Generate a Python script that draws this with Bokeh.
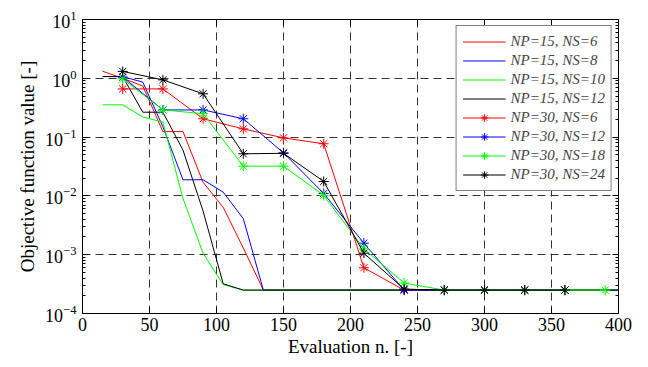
from bokeh.plotting import figure
from bokeh.models import (Range1d, LogAxis, LinearAxis, SingleIntervalTicker, LogTicker,
                          Legend, LegendItem)
from bokeh.embed import file_html
from bokeh.resources import INLINE

# ---- data ----
# NP=15 series (no markers)
x_np15_ns6 = [15, 30, 45, 60, 75, 90, 105, 120, 135, 400]
y_np15_ns6 = [1.32, 1.0, 0.74, 0.124, 0.124, 0.017, 0.0064, 0.0013, 0.00025, 0.00025]

x_np15_ns8 = [15, 30, 45, 60, 75, 90, 105, 120, 135, 400]
y_np15_ns8 = [1.07, 1.07, 0.86, 0.15, 0.0188, 0.0188, 0.0116, 0.0041, 0.00025, 0.00025]

x_np15_ns10 = [15, 30, 45, 60, 75, 90, 105, 120, 400]
y_np15_ns10 = [0.354, 0.354, 0.22, 0.18, 0.009, 0.00106, 0.00031, 0.00025, 0.00025]

x_np15_ns12 = [15, 30, 45, 60, 75, 90, 105, 120, 400]
y_np15_ns12 = [1.07, 1.07, 0.265, 0.265, 0.06, 0.0055, 0.00032, 0.00025, 0.00025]

# NP=30 series (asterisk markers)
x_np30_ns6 = [30, 60, 90, 120, 150, 180, 210, 240, 270, 300, 330, 360]
y_np30_ns6 = [0.66, 0.66, 0.205, 0.138, 0.097, 0.077, 0.0006, 0.00025, 0.00025, 0.00025, 0.00025, 0.00025]

x_np30_ns12 = [30, 60, 90, 120, 150, 180, 210, 240, 270, 300, 330, 360]
y_np30_ns12 = [1.05, 0.29, 0.29, 0.205, 0.054, 0.011, 0.00157, 0.00025, 0.00025, 0.00025, 0.00025, 0.00025]

x_np30_ns18 = [30, 60, 90, 120, 150, 180, 210, 240, 270, 300, 330, 360, 390]
y_np30_ns18 = [0.98, 0.29, 0.25, 0.032, 0.032, 0.0102, 0.00126, 0.00033, 0.00025, 0.00025, 0.00025, 0.00025, 0.00025]

x_np30_ns24 = [30, 60, 90, 120, 150, 180, 210, 240, 270, 300, 330, 360]
y_np30_ns24 = [1.31, 0.94, 0.545, 0.052, 0.053, 0.0176, 0.00106, 0.00026, 0.00025, 0.00025, 0.00025, 0.00025]

labels = ["NP=15, NS=6", "NP=15, NS=8", "NP=15, NS=10", "NP=15, NS=12",
          "NP=30, NS=6", "NP=30, NS=12", "NP=30, NS=18", "NP=30, NS=24"]
colors = ["#ff0000", "#0000ff", "#00ff00", "#000000"]

x_ticks_interval = 50
x_lim = (0, 400)
y_lim = (1e-4, 1e1)

SERIF = "Liberation Serif"

p = figure(width=638, height=363, y_axis_type="log",
           x_range=Range1d(*x_lim), y_range=Range1d(*y_lim),
           output_backend="svg", toolbar_location=None,
           min_border_left=82, min_border_right=20, min_border_top=19, min_border_bottom=50)
p.background_fill_color = "white"
p.border_fill_color = "white"
p.outline_line_color = "black"
p.outline_line_width = 1

np15 = [(x_np15_ns6, y_np15_ns6), (x_np15_ns8, y_np15_ns8),
        (x_np15_ns10, y_np15_ns10), (x_np15_ns12, y_np15_ns12)]
np30 = [(x_np30_ns6, y_np30_ns6), (x_np30_ns12, y_np30_ns12),
        (x_np30_ns18, y_np30_ns18), (x_np30_ns24, y_np30_ns24)]

items = []
for (xs, ys), c, lab in zip(np15, colors, labels[:4]):
    r = p.line(xs, ys, line_color=c, line_width=1)
    items.append(LegendItem(label=lab, renderers=[r]))
for (xs, ys), c, lab in zip(np30, colors, labels[4:]):
    r = p.line(xs, ys, line_color=c, line_width=1)
    s = p.scatter(xs, ys, marker="asterisk", size=10, line_color=c, line_width=1)
    items.append(LegendItem(label=lab, renderers=[r, s]))

# axes
xax = p.xaxis[0]
xax.ticker = SingleIntervalTicker(interval=x_ticks_interval)
yax = p.yaxis[0]
yax.ticker = LogTicker(num_minor_ticks=10)
for ax in (xax, yax):
    ax.major_tick_in = 6
    ax.major_tick_out = 0
    ax.minor_tick_in = 3
    ax.minor_tick_out = 0
    ax.major_label_text_font = SERIF
    ax.major_label_text_font_size = "18px"
    ax.major_label_text_color = "black"
    ax.axis_label_text_font = SERIF
    ax.axis_label_text_font_size = "19px"
    ax.axis_label_text_font_style = "normal"
    ax.axis_label_text_color = "black"
    ax.axis_line_color = "black"
    ax.major_tick_line_color = "black"
    ax.minor_tick_line_color = "black"
xax.minor_tick_line_color = None
xax.axis_label = "Evaluation n. [-]"
yax.axis_label = "Objective function value [-]"
xax.major_label_standoff = 4
xax.axis_label_standoff = 2
yax.major_label_standoff = 6
yax.axis_label_standoff = 4

top = LinearAxis(ticker=SingleIntervalTicker(interval=x_ticks_interval),
                 major_label_text_font_size="1px", major_label_text_color=None,
                 major_tick_in=6, major_tick_out=0,
                 minor_tick_line_color=None, major_label_standoff=0)
p.add_layout(top, "above")
right = LogAxis(ticker=LogTicker(num_minor_ticks=10),
                major_label_text_font_size="1px", major_label_text_color=None,
                major_tick_in=6, major_tick_out=0,
                minor_tick_in=3, minor_tick_out=0, major_label_standoff=0)
p.add_layout(right, "right")

# grid
for g in (p.xgrid[0], p.ygrid[0]):
    g.grid_line_color = "#333333"
    g.grid_line_dash = "8 5"
    g.grid_line_width = 1
p.xgrid[0].ticker = SingleIntervalTicker(interval=x_ticks_interval)

legend = Legend(items=items, location="top_right")
legend.margin = 6
legend.padding = 6
legend.spacing = 0
legend.label_height = 19
legend.glyph_height = 19
legend.glyph_width = 43
legend.label_standoff = 5
legend.label_text_font = SERIF
legend.label_text_font_style = "italic"
legend.label_text_font_size = "15px"
legend.border_line_color = "black"
legend.border_line_width = 1
legend.background_fill_alpha = 1
p.add_layout(legend, "center")

open("out.html", "w").write(file_html(p, INLINE))
